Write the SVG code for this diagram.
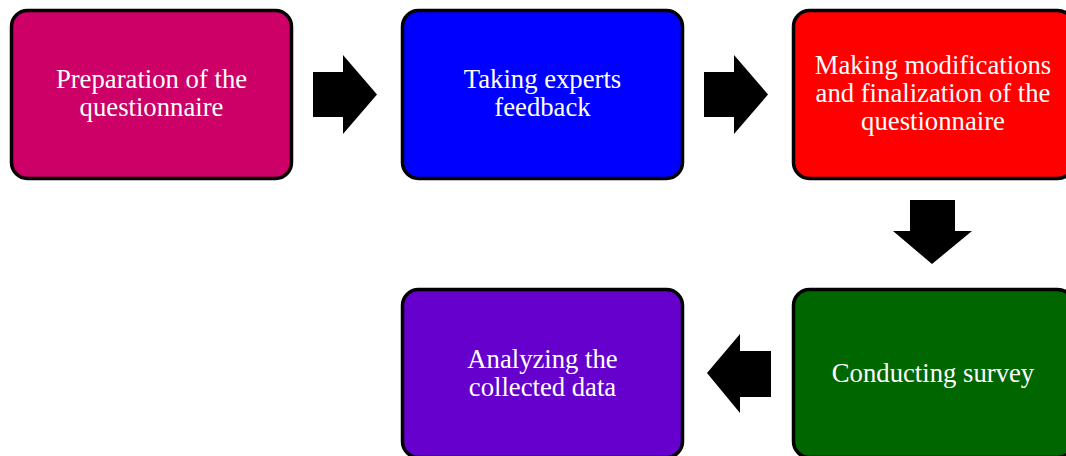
<svg xmlns="http://www.w3.org/2000/svg" width="1066" height="456" viewBox="0 0 1066 456">
<style>
.box{stroke:#000;stroke-width:3.5}
.lbl{font-family:"Liberation Serif","Times New Roman",serif;font-size:26.7px;fill:#fff;text-anchor:middle}
.arr{fill:#000}
</style>
<rect width="1066" height="456" fill="#fff"/>
<g id="n1"><rect class="box" x="11.5" y="10.5" width="280" height="168" rx="16" fill="#CC0066"/>
<text class="lbl" x="151.5" y="88">Preparation of the</text><text class="lbl" x="151.5" y="116">questionnaire</text></g>
<g id="n2"><rect class="box" x="402.5" y="10.5" width="280" height="168" rx="16" fill="#0000FF"/>
<text class="lbl" x="542.5" y="88">Taking experts</text><text class="lbl" x="542.5" y="116">feedback</text></g>
<g id="n3"><rect class="box" x="793.5" y="10.5" width="280" height="168" rx="16" fill="#FF0000"/>
<text class="lbl" x="933" y="74">Making modifications</text><text class="lbl" x="933" y="102">and finalization of the</text><text class="lbl" x="933" y="130">questionnaire</text></g>
<g id="n4"><rect class="box" x="793.5" y="289.5" width="280" height="168" rx="16" fill="#006600"/>
<text class="lbl" x="933" y="382">Conducting survey</text></g>
<g id="n5"><rect class="box" x="402.5" y="289.5" width="280" height="168" rx="16" fill="#6600CC"/>
<text class="lbl" x="542.5" y="368">Analyzing the</text><text class="lbl" x="542.5" y="396">collected data</text></g>
<g id="connectors">
<polygon class="arr" points="313,72 343,72 343,55 377,94.5 343,134 343,117 313,117"/>
<polygon class="arr" points="704,72 734,72 734,55 768,94.5 734,134 734,117 704,117"/>
<polygon class="arr" points="910,200 955,200 955,231 972,231 932,264 893,231 910,231"/>
<polygon class="arr" points="771,351 740,351 740,334 707,373 740,413 740,397 771,397"/>
</g>
</svg>
